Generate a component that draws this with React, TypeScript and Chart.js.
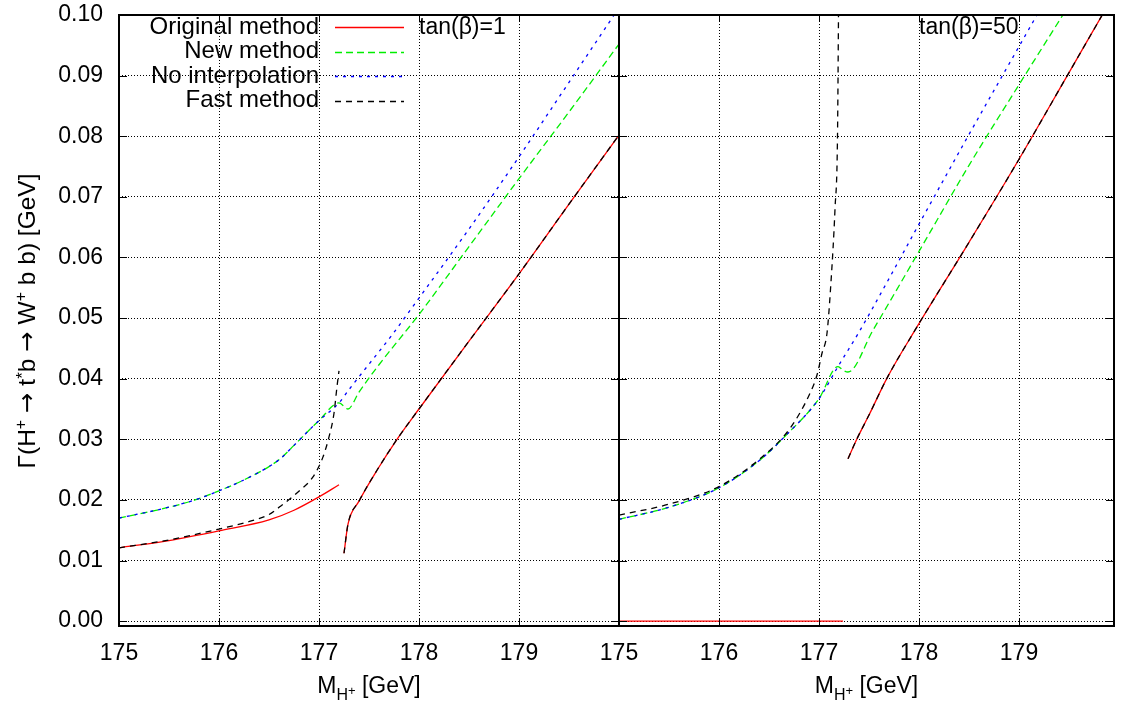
import React, { useEffect, useRef } from 'react';
import { Chart, registerables } from 'chart.js';

Chart.register(...registerables);

type Pt = [number, number];

const FONT = '"Liberation Sans", Arial, Helvetica, sans-serif';
const ARROW_FONT = '"DejaVu Sans", sans-serif';
const FS = 23;
const LFS = 24;
const YFS = 24.5;

const xTicks = [175, 176, 177, 178, 179];
const yTicks = [0, 0.01, 0.02, 0.03, 0.04, 0.05, 0.06, 0.07, 0.08, 0.09, 0.1];

const legendLabels = ['Original method', 'New method', 'No interpolation', 'Fast method'];
const panelLabels = ['tan(β)=1', 'tan(β)=50'];

// ---- left panel, tan(beta)=1 ----
const origLowL: Pt[] = [[175, 0.0121], [175.5, 0.0133], [176, 0.0149], [176.5, 0.0167], [176.75, 0.0183], [177, 0.0205], [177.2, 0.0225]];
const origHighL: Pt[] = [[177.25, 0.0112], [177.29, 0.016], [177.4, 0.0198], [177.58, 0.0249], [177.78, 0.03], [178, 0.035], [178.5, 0.0462], [179, 0.0573], [179.5, 0.0688], [180, 0.0802]];
const fastLowL: Pt[] = [[175, 0.0121], [175.5, 0.0134], [176, 0.0152], [176.25, 0.0162], [176.5, 0.0176], [176.61, 0.0189], [176.81, 0.0216], [176.94, 0.0238], [177.04, 0.0271], [177.1, 0.0304], [177.15, 0.0343], [177.18, 0.0387], [177.2, 0.0413]];
const commonLowL: Pt[] = [[175, 0.017], [175.5, 0.0188], [175.76, 0.02], [176, 0.0215], [176.25, 0.0233], [176.5, 0.0255], [176.62, 0.0269], [176.75, 0.029], [177, 0.0331], [177.2, 0.036]];
const newTailL: Pt[] = [[177.29, 0.035], [177.4, 0.0378], [177.6, 0.0423], [178, 0.0506], [178.5, 0.0618], [179, 0.073], [179.5, 0.084], [180, 0.0952]];
const noIntTailL: Pt[] = [[177.3, 0.0382], [177.5, 0.0424], [177.73, 0.0472], [178, 0.0533], [178.5, 0.0647], [179, 0.0766], [179.5, 0.0889], [180, 0.1012]];

// ---- right panel, tan(beta)=50 ----
const origLowR: Pt[] = [[175, 0], [177.24, 0]];
const origHighR: Pt[] = [[177.29, 0.0268], [177.38, 0.0301], [177.5, 0.034], [177.68, 0.0401], [177.96, 0.048], [178.5, 0.0625], [179, 0.0762], [179.5, 0.0905], [179.85, 0.1005]];
const fastLowR: Pt[] = [[175, 0.0175], [175.5, 0.0193], [176, 0.0222], [176.41, 0.0268], [176.71, 0.0318], [176.91, 0.0376], [176.98, 0.0406], [177.03, 0.0442], [177.08, 0.0475], [177.12, 0.056], [177.16, 0.068], [177.185, 0.08], [177.195, 0.1], [177.2, 0.11]];
const commonLowR: Pt[] = [[175, 0.0168], [175.5, 0.0188], [176, 0.022], [176.41, 0.0266], [176.66, 0.0305], [177, 0.0367], [177.19, 0.042]];
const newTailR: Pt[] = [[177.24, 0.0414], [177.29, 0.0411], [177.54, 0.048], [178, 0.061], [178.5, 0.0752], [179, 0.0885], [179.45, 0.1003]];
const noIntTailR: Pt[] = [[177.39, 0.0474], [177.7, 0.0565], [178, 0.0655], [178.49, 0.08], [179, 0.0948], [179.2, 0.1006]];

type Key = 'orig' | 'new' | 'noint' | 'fast';
const STYLES: Record<Key, { color: string; dash: number[]; order: number }> = {
  orig: { color: '#ff0000', dash: [], order: 4 },
  new: { color: '#00ee00', dash: [7, 4], order: 3 },
  noint: { color: '#0000ff', dash: [3, 5], order: 2 },
  fast: { color: '#000000', dash: [6, 5], order: 1 },
};
const legendKeys: Key[] = ['orig', 'new', 'noint', 'fast'];

interface Seg { text: string; size: number; dy: number; font?: string }

function drawRich(ctx: CanvasRenderingContext2D, segs: Seg[], x: number, y: number) {
  let total = 0;
  for (const s of segs) {
    ctx.font = `${s.size}px ${s.font || FONT}`;
    total += ctx.measureText(s.text).width;
  }
  let cx = x - total / 2;
  ctx.textAlign = 'left';
  ctx.textBaseline = 'alphabetic';
  ctx.fillStyle = '#000';
  for (const s of segs) {
    ctx.font = `${s.size}px ${s.font || FONT}`;
    ctx.fillText(s.text, cx, y + s.dy);
    cx += ctx.measureText(s.text).width;
  }
}

const xTitle: Seg[] = [
  { text: 'M', size: FS, dy: 0 },
  { text: 'H', size: 16, dy: 7 },
  { text: '+', size: 13, dy: 2 },
  { text: ' [GeV]', size: FS, dy: 0 },
];
const yTitle: Seg[] = [
  { text: 'Γ(H', size: YFS, dy: 0 },
  { text: '+', size: 16, dy: -9 },
  { text: ' ', size: YFS, dy: 0 },
  { text: '→', size: YFS, dy: 0, font: ARROW_FONT },
  { text: ' t', size: YFS, dy: 0 },
  { text: '*', size: 17, dy: -7 },
  { text: 'b ', size: YFS, dy: 0 },
  { text: '→', size: YFS, dy: 0, font: ARROW_FONT },
  { text: ' W', size: YFS, dy: 0 },
  { text: '+', size: 16, dy: -9 },
  { text: ' b b) [GeV]', size: YFS, dy: 0 },
];

interface PanelCfg {
  left: number;
  width: number;
  xMax: number;
  yAxisWidth: number;
  padRight: number;
  showY: boolean;
  legend: boolean;
  label: string;
  series: { key: Key; pts: Pt[] }[];
}

const panels: PanelCfg[] = [
  {
    left: 0, width: 625, xMax: 180, yAxisWidth: 119, padRight: 6, showY: true, legend: true, label: panelLabels[0],
    series: [
      { key: 'orig', pts: origLowL }, { key: 'orig', pts: origHighL },
      { key: 'new', pts: [...commonLowL, ...newTailL] },
      { key: 'noint', pts: [...commonLowL, ...noIntTailL] },
      { key: 'fast', pts: fastLowL }, { key: 'fast', pts: origHighL },
    ],
  },
  {
    left: 569, width: 552, xMax: 179.95, yAxisWidth: 50, padRight: 7, showY: false, legend: false, label: panelLabels[1],
    series: [
      { key: 'orig', pts: origLowR }, { key: 'orig', pts: origHighR },
      { key: 'new', pts: [...commonLowR, ...newTailR] },
      { key: 'noint', pts: [...commonLowR, ...noIntTailR] },
      { key: 'fast', pts: fastLowR }, { key: 'fast', pts: origHighR },
    ],
  },
];

function Panel({ cfg }: { cfg: PanelCfg }) {
  const ref = useRef<HTMLCanvasElement>(null);
  useEffect(() => {
    const decor = {
      id: 'decor',
      afterDraw(chart: any) {
        const ctx: CanvasRenderingContext2D = chart.ctx;
        const { left, right, top, bottom } = chart.chartArea;
        const xs = chart.scales.x;
        const ys = chart.scales.y;
        ctx.save();
        // inward ticks
        ctx.strokeStyle = '#000';
        ctx.lineWidth = 1;
        ctx.setLineDash([]);
        ctx.beginPath();
        for (const v of yTicks) {
          const y = Math.round(ys.getPixelForValue(v)) + 0.5;
          ctx.moveTo(left, y); ctx.lineTo(left + 8, y);
          ctx.moveTo(right, y); ctx.lineTo(right - 8, y);
        }
        for (const v of xTicks) {
          const x = Math.round(xs.getPixelForValue(v)) + 0.5;
          ctx.moveTo(x, bottom); ctx.lineTo(x, bottom - 7);
          ctx.moveTo(x, top); ctx.lineTo(x, top + 7);
        }
        ctx.stroke();
        // frame
        ctx.lineWidth = 2;
        ctx.strokeRect(left, top, right - left, bottom - top);
        // panel label
        ctx.fillStyle = '#000';
        ctx.font = `${FS}px ${FONT}`;
        ctx.textAlign = 'left';
        ctx.textBaseline = 'middle';
        ctx.fillText(cfg.label, xs.getPixelForValue(178), 28);
        // legend
        if (cfg.legend) {
          legendKeys.forEach((k, i) => {
            const y = 27 + i * 24.5;
            ctx.fillStyle = '#000';
            ctx.font = `${LFS}px ${FONT}`;
            ctx.textAlign = 'right';
            ctx.textBaseline = 'middle';
            ctx.fillText(legendLabels[i], 319, y);
            ctx.strokeStyle = STYLES[k].color;
            ctx.lineWidth = 1.3;
            ctx.setLineDash(STYLES[k].dash);
            ctx.beginPath();
            ctx.moveTo(335, Math.round(y) + 0.5);
            ctx.lineTo(404, Math.round(y) + 0.5);
            ctx.stroke();
          });
          ctx.setLineDash([]);
        }
        // axis titles
        drawRich(ctx, xTitle, (left + right) / 2, 693);
        if (cfg.showY) {
          ctx.save();
          ctx.translate(35, 321);
          ctx.rotate(-Math.PI / 2);
          drawRich(ctx, yTitle, 0, 0);
          ctx.restore();
        }
        ctx.restore();
      },
    };

    const chart = new Chart(ref.current as HTMLCanvasElement, {
      type: 'line',
      data: {
        datasets: cfg.series.map((s) => ({
          data: s.pts.map(([x, y]) => ({ x, y })),
          borderColor: STYLES[s.key].color,
          borderDash: STYLES[s.key].dash,
          borderWidth: 1.3,
          pointRadius: 0,
          fill: false,
          order: STYLES[s.key].order,
          cubicInterpolationMode: 'monotone' as const,
          clip: 0,
        })),
      },
      options: {
        animation: false,
        responsive: false,
        devicePixelRatio: 1,
        layout: { padding: { left: 0, right: cfg.padRight, top: 15, bottom: 0 } },
        plugins: { legend: { display: false }, tooltip: { enabled: false } },
        scales: {
          x: {
            type: 'linear',
            min: 175,
            max: cfg.xMax,
            afterBuildTicks: (s: any) => { s.ticks = xTicks.map((v) => ({ value: v })); },
            afterFit: (s: any) => { s.height = 81; s.paddingLeft = 0; s.paddingRight = 0; },
            ticks: {
              color: '#000',
              font: { family: FONT, size: FS },
              padding: 14,
              autoSkip: false,
              maxRotation: 0,
              callback: (v: any) => String(v),
            },
            grid: { color: '#000', lineWidth: 1, drawTicks: false },
            border: { display: false, dash: [1, 2] },
          },
          y: {
            type: 'linear',
            min: -0.0008,
            max: 0.1,
            afterBuildTicks: (s: any) => { s.ticks = yTicks.map((v) => ({ value: v })); },
            afterFit: (s: any) => { s.width = cfg.yAxisWidth; s.paddingTop = 0; s.paddingBottom = 0; },
            ticks: {
              display: cfg.showY,
              color: '#000',
              font: { family: FONT, size: FS },
              padding: 16,
              callback: (v: any) => Number(v).toFixed(2),
            },
            grid: { color: '#000', lineWidth: 1, drawTicks: false },
            border: { display: false, dash: [1, 2] },
          },
        },
      },
      plugins: [decor],
    } as any);
    return () => chart.destroy();
  }, []);
  return (
    <canvas
      ref={ref}
      width={cfg.width}
      height={707}
      style={{ position: 'absolute', left: cfg.left, top: 0, width: cfg.width, height: 707 }}
    />
  );
}

export default function App() {
  return (
    <div style={{ position: 'absolute', left: 0, top: 0, width: 1121, height: 707, background: '#fff', overflow: 'hidden' }}>
      {panels.map((p, i) => <Panel key={i} cfg={p} />)}
    </div>
  );
}
